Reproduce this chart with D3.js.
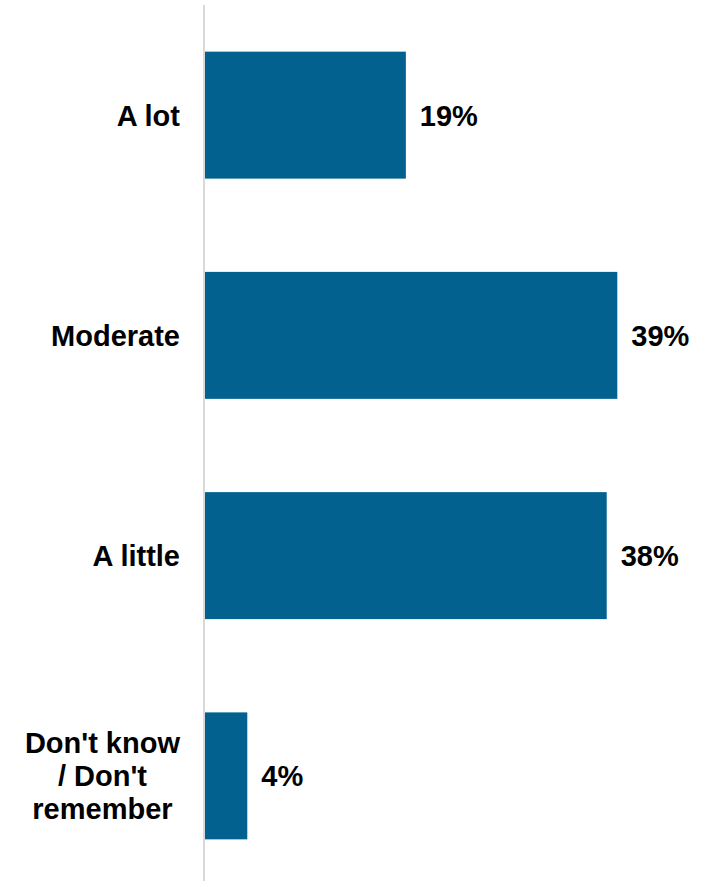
<!DOCTYPE html>
<html>
<head>
<meta charset="utf-8">
<script src="https://cdn.jsdelivr.net/npm/d3@7"></script>
<style>
  html, body { margin: 0; padding: 0; background: #ffffff; }
  svg { display: block; }
</style>
</head>
<body>
<div id="chart"></div>
<script>
const categories = ["A lot", "Moderate", "A little", "Don't know / Don't remember"];
const categoryLines = [["A lot"], ["Moderate"], ["A little"], ["Don't know", "/ Don't", "remember"]];
const values = [19, 39, 38, 4];
const valueLabels = ["19%", "39%", "38%", "4%"];

const W = 702, H = 881;
const axisX = 205;
const fontSize = 29;
const svg = d3.select("#chart").append("svg")
  .attr("width", W).attr("height", H)
  .style("font-family", "'Liberation Sans', Arial, sans-serif");

const x = d3.scaleLinear().domain([0, 39]).range([axisX, 617.3]);
const y = d3.scaleBand().domain(categories).range([5, 886])
  .paddingInner(0.4235).paddingOuter(0.2118);

const barColor = "#03618f";

svg.append("g").selectAll("rect")
  .data(values)
  .join("rect")
  .attr("x", x(0))
  .attr("y", (d, i) => y(categories[i]))
  .attr("width", d => x(d) - x(0))
  .attr("height", y.bandwidth())
  .attr("fill", barColor);

// axis line
svg.append("line")
  .attr("x1", axisX - 1).attr("x2", axisX - 1)
  .attr("y1", 5).attr("y2", H)
  .attr("stroke", "#d9d9d9").attr("stroke-width", 2);

// value labels
svg.append("g").selectAll("text")
  .data(values)
  .join("text")
  .attr("x", d => x(d) + 14)
  .attr("y", (d, i) => y(categories[i]) + y.bandwidth() / 2)
  .attr("dy", "0.36em")
  .attr("font-size", fontSize)
  .attr("font-weight", "bold")
  .attr("fill", "#000")
  .text((d, i) => valueLabels[i]);

// category labels
const rightEdge = 180;
const lineH = 33;
const catG = svg.append("g");
categories.forEach((c, i) => {
  const lines = categoryLines[i];
  const cy = y(c) + y.bandwidth() / 2;
  const g = catG.append("g");
  const texts = lines.map((l, j) => g.append("text")
    .attr("y", cy + (j - (lines.length - 1) / 2) * lineH)
    .attr("dy", "0.36em")
    .attr("font-size", fontSize)
    .attr("font-weight", "bold")
    .attr("fill", "#000")
    .text(l));
  const maxW = d3.max(texts, t => t.node().getComputedTextLength());
  texts.forEach(t => t.attr("text-anchor", "middle").attr("x", rightEdge - maxW / 2));
});
</script>
</body>
</html>
